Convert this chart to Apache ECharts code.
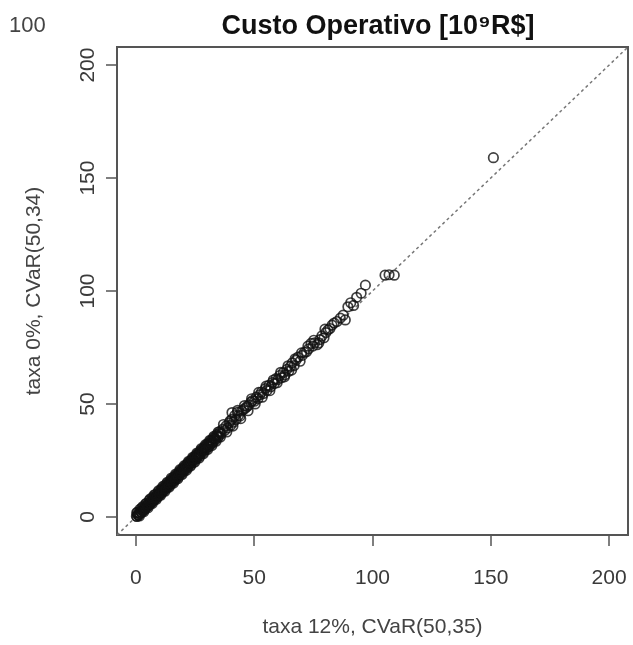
<!DOCTYPE html>
<html>
<head>
<meta charset="utf-8">
<script src="https://cdn.jsdelivr.net/npm/echarts@6/dist/echarts.min.js"></script>
<style>
  html, body { margin: 0; padding: 0; background: #fff; }
  #main { width: 633px; height: 645px; }
</style>
</head>
<body>
<div id="main"></div>
<script>
// eixo e textos
var tickValues = [0, 50, 100, 150, 200];
var axisRange = [-8, 208];
var titleText = 'Custo Operativo [10\u2079R$]';
var xName = 'taxa 12%, CVaR(50,35)';
var yName = 'taxa 0%, CVaR(50,34)';
var cornerText = '100';

// pontos (taxa 12%, taxa 0%)
var denseRun = [
  [0.2,0.3],[0.5,0.2],[0.8,1.1],[1.1,0.9],[1.4,1.6],[1.7,1.5],[2.0,2.4],[2.3,2.1],[2.6,3.0],[2.9,2.7],
  [3.2,3.6],[3.5,3.3],[3.8,4.3],[4.1,3.9],[4.4,4.9],[4.7,4.5],[5.0,5.6],[5.3,5.1],[5.6,6.2],[5.9,5.8],
  [6.2,6.9],[6.5,6.3],[6.8,7.5],[7.1,7.0],[7.4,8.1],[7.7,7.6],[8.0,8.8],[8.3,8.2],[8.6,9.4],[8.9,8.9],
  [9.2,10.0],[9.5,9.5],[9.8,10.7],[10.1,10.0],[10.4,11.3],[10.7,10.6],[11.0,11.9],[11.3,11.3],[11.6,12.5],[11.9,11.9],
  [12.2,13.2],[12.5,12.6],[12.8,13.8],[13.1,13.2],[13.4,14.4],[13.7,13.8],[14.0,15.1],[14.3,14.4],[14.6,15.7],[14.9,15.1],
  [15.2,16.3],[15.5,15.7],[15.8,16.9],[16.1,16.3],[16.4,17.6],[16.7,17.0],[17.0,18.2],[17.3,17.6],[17.6,18.8],[17.9,18.2],
  [18.2,19.4],[18.5,18.9],[18.8,20.1],[19.1,19.5],[19.4,20.7],[19.7,20.1],[20.0,21.4],[20.3,20.8],[20.6,22.0],[20.9,21.4],
  [21.2,22.6],[21.5,22.0],[21.8,23.3],[22.1,22.6],[22.4,23.9],[22.7,23.3],[23.0,24.5],[23.3,23.9],[23.6,25.1],[23.9,24.6],
  [24.2,25.8],[24.5,25.2],[24.8,26.4],[25.1,25.8],[25.4,27.0],[25.7,26.5],[26.0,27.6],[26.4,27.2],[26.8,28.4],[27.2,28.0],
  [27.6,29.3],[28.0,28.8],[28.4,30.1],[28.8,29.6],[29.2,30.9],[29.6,30.4],[30.0,31.8],[30.5,31.2],[31.0,32.7],[31.5,32.3],
  [32.0,33.8],[32.5,33.2],[33.0,34.8],[33.6,34.5],[34.2,35.9],[34.8,35.6],[35.4,37.1],[36.0,36.8]
];
var denseEdge = [
  [0.6,2.0],[1.5,0.4],[2.4,3.9],[3.3,2.3],[4.2,5.8],[5.1,4.0],[6.0,7.9],[6.9,5.9],[7.8,9.8],[8.7,7.8],
  [9.6,11.6],[10.5,9.6],[11.4,13.5],[12.3,11.4],[13.2,15.3],[14.1,13.2],[15.0,17.2],[15.9,15.0],[16.8,19.0],[17.7,16.9],
  [18.6,20.9],[19.5,18.8],[20.4,22.7],[21.3,20.6],[22.2,24.6],[23.1,22.5],[24.0,26.4],[24.9,24.3],[25.8,28.3],[26.7,26.1],
  [27.6,30.2],[28.5,28.0],[29.4,32.0],[30.3,29.8],[31.2,33.9],[32.1,31.6],[33.0,35.7],[33.9,33.5],[34.8,37.6],[35.7,35.4]
];
var denseFill = [
  [0.35,1.9],[1.0,0.7],[1.65,3.3],[2.3,2.0],[2.95,4.6],[3.6,3.3],[4.25,5.9],[4.9,4.6],[5.55,7.2],[6.2,5.9],
  [6.85,8.5],[7.5,7.2],[8.15,9.8],[8.8,8.5],[9.45,11.1],[10.1,9.8],[10.75,12.4],[11.4,11.1],[12.05,13.7],[12.7,12.4],
  [13.35,15.0],[14.0,13.7],[14.65,16.3],[15.3,15.0],[15.95,17.6],[16.6,16.3],[17.25,18.9],[17.9,17.6],[18.55,20.3],[19.2,19.0],
  [19.85,21.6],[20.5,20.3],[21.15,22.9],[21.8,21.6],[22.45,24.3],[23.1,23.0],[23.75,25.6],[24.4,24.3],[25.05,27.0],[25.7,25.7],
  [26.35,28.3],[27.0,27.0],[27.65,29.7],[28.3,28.4],[28.95,31.0],[29.6,29.8],[30.25,32.4],[30.9,31.1],[31.55,33.7],[32.2,32.5],
  [32.85,35.1],[33.5,33.9],[34.15,36.4],[34.8,35.3],[35.45,37.8]
];
var midRun = [
  [36.8,38.9],[37.5,38.2],[38.1,40.3],[38.8,39.4],[39.4,41.6],[40.0,40.5],[40.6,46.2],[40.6,43.2],[41.2,41.9],[41.8,44.9],
  [42.3,43.1],[42.9,46.3],[43.4,45.0],[44.0,44.6],[44.7,46.9],[45.5,47.5],[46.3,48.2],[47.0,48.9],[47.8,49.6],[48.6,50.8],
  [49.3,51.5],[50.1,51.2],[50.9,53.0],[51.6,52.4],[52.4,54.1],[53.1,55.3],[53.9,54.6],[54.7,56.8],[55.4,56.0],[56.2,58.2],
  [57.0,57.6],[57.7,59.5],[58.5,59.0],[59.2,61.2],[60.0,60.8],[60.8,62.6],[61.5,61.6],[62.3,63.9],[63.0,62.9],[63.8,65.3],
  [64.6,64.5],[65.3,66.6],[66.1,68.2],[66.9,67.0],[67.7,69.4],[68.5,70.7],[69.4,68.9],[70.3,71.5],[71.2,72.8],[72.1,73.1],
  [73.0,74.4],[74.0,76.8],[74.8,75.6],[75.5,77.0],[76.6,76.2],[77.8,78.5],[78.6,80.1],[79.5,79.3],[80.3,81.6],[81.2,82.8],
  [82.0,83.4],[82.9,84.9],[83.8,85.8]
];
var midEdge = [
  [37.0,40.9],[38.4,37.6],[39.8,42.5],[41.0,40.2],[43.0,47.2],[44.3,43.5],[45.9,49.3],[47.4,47.0],[48.9,52.3],[50.4,50.0],
  [51.9,55.1],[53.4,53.0],[55.0,57.9],[56.6,55.9],[58.1,60.6],[59.7,59.4],[61.2,64.0],[62.8,62.0],[64.3,66.9],[65.8,65.0],
  [67.3,70.0],[70.0,72.6],[72.7,75.6],[75.2,78.2],[77.3,77.0],[79.9,83.1]
];
var upperRun = [
  [85.0,86.5],[86.4,88.0],[87.6,89.3],[88.5,87.2],[89.6,93.0],[90.8,94.8],[92.0,93.6],[93.3,97.2],[95.2,99.0],[97.0,102.6],
  [105.3,107.0],[107.0,107.2],[109.2,107.0]
];
var outliers = [
  [151.1,159.0]
];

var points = denseRun.concat(denseEdge, denseFill, midRun, midEdge, upperRun, outliers);
var diag = [[axisRange[0], axisRange[0]], [axisRange[1], axisRange[1]]];

var fontFam = '"Liberation Sans", Arial, sans-serif';

function axisCfg(isY) {
  return {
    type: 'value',
    min: axisRange[0],
    max: axisRange[1],
    name: isY ? yName : xName,
    nameLocation: 'middle',
    nameGap: isY ? 72 : 82,
    nameTextStyle: { color: '#444', fontSize: 21, fontFamily: fontFam },
    axisLine: { show: false, onZero: false },
    axisTick: {
      show: true,
      length: 11,
      customValues: tickValues,
      lineStyle: { color: '#555', width: 1.5 }
    },
    axisLabel: {
      customValues: tickValues,
      color: '#3a3a3a',
      fontSize: 21,
      fontFamily: fontFam,
      rotate: isY ? 90 : 0,
      margin: isY ? 18 : 33
    },
    splitLine: { show: false }
  };
}

var myChart = echarts.init(document.getElementById('main'));
var option = {
  backgroundColor: '#fff',
  animation: false,
  title: {
    text: titleText,
    left: 373,
    top: 8,
    textAlign: 'center',
    textStyle: { color: '#111', fontSize: 27, fontWeight: 'bold', fontFamily: fontFam }
  },
  graphic: [{
    type: 'text',
    left: 9,
    top: 15,
    style: { text: cornerText, fill: '#444', fontSize: 22, fontFamily: fontFam }
  }],
  grid: {
    left: 117,
    right: 5,
    top: 47,
    bottom: 110,
    show: true,
    borderColor: '#555',
    borderWidth: 2,
    backgroundColor: '#fff'
  },
  xAxis: axisCfg(false),
  yAxis: axisCfg(true),
  series: [
    {
      type: 'line',
      data: diag,
      symbol: 'none',
      silent: true,
      z: 1,
      lineStyle: { color: '#777', width: 1.5, type: [3, 3] }
    },
    {
      type: 'scatter',
      data: points,
      symbol: 'circle',
      symbolSize: 9.5,
      z: 2,
      itemStyle: { color: 'rgba(0,0,0,0)', borderColor: '#111', borderWidth: 1.7 }
    }
  ]
};
myChart.setOption(option);
</script>
</body>
</html>
